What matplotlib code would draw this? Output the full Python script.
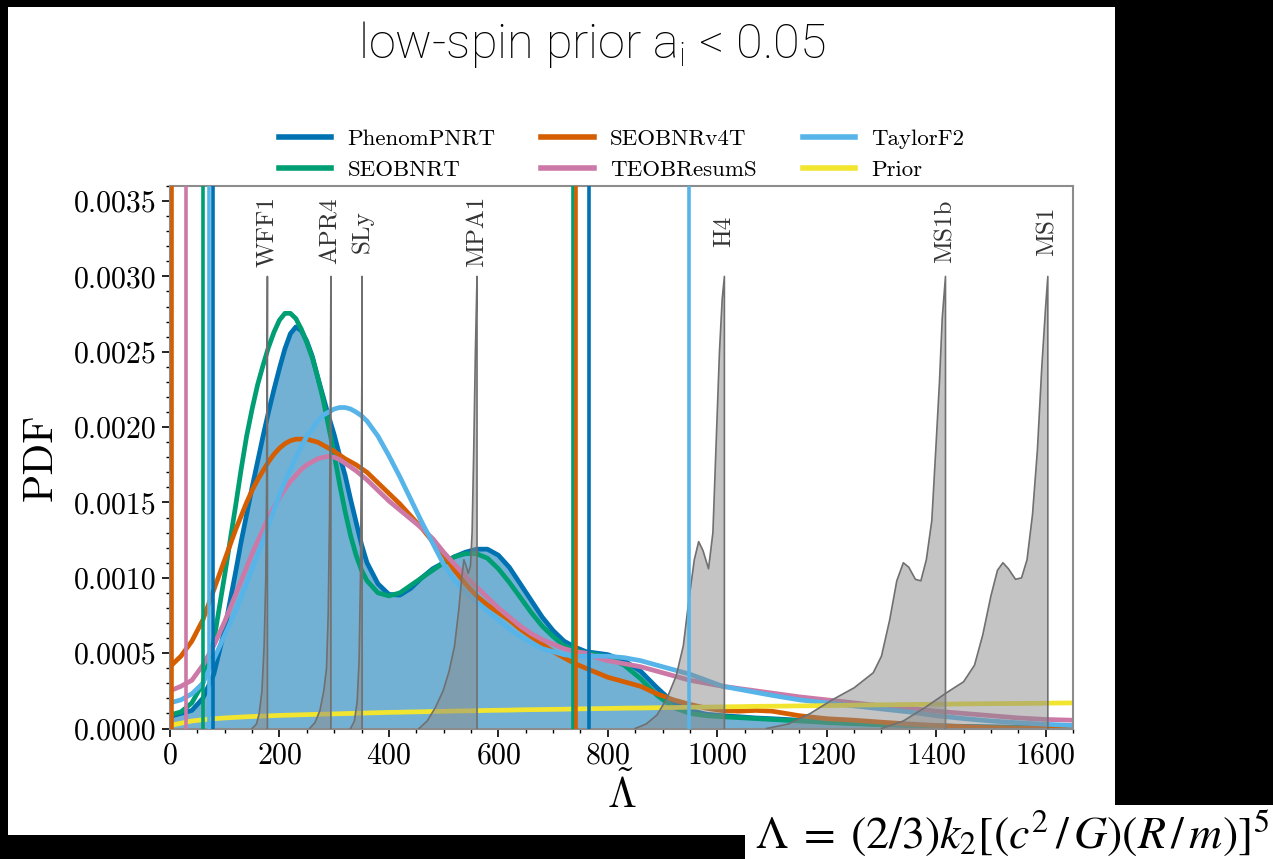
"""Tidal deformability posteriors, low-spin prior (slide recreation)."""

import matplotlib

matplotlib.use("Agg")
import matplotlib.pyplot as plt
import numpy as np
from matplotlib.patches import Rectangle
from matplotlib.ticker import FormatStrFormatter, MultipleLocator

plt.rcParams["font.family"] = "cmr10"
plt.rcParams["mathtext.fontset"] = "cm"
plt.rcParams["axes.unicode_minus"] = False
plt.rcParams["axes.formatter.use_mathtext"] = True

# --- data (PDF values in units of 1e-3) -------------------------------------
lam_grid = [0, 20, 40, 60, 80, 100, 120, 130, 140, 150, 160, 170, 180, 190, 200, 210,
            220, 230, 240, 250, 260, 270, 280, 290, 300, 310, 320, 330, 340, 350, 360,
            380, 400, 420, 440, 460, 480, 500, 520, 540, 560, 580, 600, 620, 640, 660,
            680, 700, 720, 740, 760, 780, 800, 830, 860, 890, 920, 950, 980, 1010, 1040,
            1070, 1100, 1150, 1200, 1250, 1300, 1350, 1400, 1450, 1500, 1550, 1600, 1650]

phenom_pdf = [0.08, 0.1, 0.12, 0.2, 0.36, 0.66, 1.04, 1.24, 1.42, 1.6, 1.77, 1.94, 2.1,
              2.25, 2.39, 2.52, 2.62, 2.665, 2.64, 2.57, 2.47, 2.33, 2.2, 2.07, 1.95, 1.81,
              1.68, 1.52, 1.37, 1.22, 1.1, 0.96, 0.89, 0.885, 0.93, 1.0, 1.06, 1.1, 1.14,
              1.17, 1.19, 1.19, 1.15, 1.07, 0.96, 0.85, 0.74, 0.65, 0.58, 0.54, 0.51, 0.5,
              0.49, 0.45, 0.38, 0.27, 0.17, 0.12, 0.095, 0.085, 0.078, 0.07, 0.065, 0.055,
              0.045, 0.035, 0.028, 0.022, 0.018, 0.014, 0.011, 0.009, 0.007, 0.006]

seobnrt_pdf = [0.09, 0.11, 0.17, 0.3, 0.58, 1.02, 1.48, 1.72, 1.94, 2.12, 2.28, 2.41,
               2.53, 2.63, 2.71, 2.755, 2.755, 2.72, 2.65, 2.56, 2.46, 2.33, 2.18, 2.0,
               1.82, 1.62, 1.44, 1.28, 1.15, 1.05, 0.98, 0.9, 0.88, 0.9, 0.95, 1.0, 1.05,
               1.1, 1.14, 1.16, 1.16, 1.13, 1.06, 0.97, 0.87, 0.77, 0.68, 0.61, 0.55, 0.52,
               0.5, 0.49, 0.47, 0.42, 0.33, 0.22, 0.14, 0.1, 0.085, 0.078, 0.072, 0.066,
               0.06, 0.05, 0.04, 0.032, 0.025, 0.02, 0.015, 0.011, 0.008, 0.006, 0.005,
               0.004]

seobnrv4t_pdf = [0.41, 0.48, 0.58, 0.72, 0.92, 1.12, 1.32, 1.41, 1.5, 1.58, 1.65, 1.71,
                 1.77, 1.82, 1.86, 1.89, 1.91, 1.92, 1.92, 1.92, 1.91, 1.9, 1.88, 1.86,
                 1.84, 1.815, 1.79, 1.77, 1.75, 1.725, 1.7, 1.63, 1.56, 1.49, 1.41, 1.33,
                 1.24, 1.15, 1.05, 0.96, 0.88, 0.82, 0.77, 0.72, 0.66, 0.61, 0.56, 0.51,
                 0.47, 0.43, 0.4, 0.37, 0.34, 0.31, 0.28, 0.23, 0.19, 0.16, 0.135, 0.118,
                 0.115, 0.12, 0.115, 0.085, 0.065, 0.055, 0.042, 0.03, 0.02, 0.012, 0.006,
                 0.002, 0.0, 0.0]

teob_pdf = [0.25, 0.28, 0.32, 0.42, 0.55, 0.71, 0.89, 0.98, 1.07, 1.16, 1.24, 1.32, 1.4,
            1.47, 1.53, 1.59, 1.64, 1.68, 1.72, 1.75, 1.77, 1.79, 1.8, 1.805, 1.8, 1.785,
            1.76, 1.735, 1.71, 1.68, 1.65, 1.58, 1.51, 1.45, 1.39, 1.33, 1.26, 1.17, 1.09,
            1.01, 0.94, 0.87, 0.8, 0.74, 0.68, 0.63, 0.59, 0.56, 0.53, 0.51, 0.5, 0.47,
            0.45, 0.43, 0.41, 0.38, 0.35, 0.32, 0.3, 0.28, 0.265, 0.25, 0.235, 0.21, 0.19,
            0.17, 0.15, 0.135, 0.115, 0.1, 0.085, 0.07, 0.06, 0.055]

taylorf2_pdf = [0.17, 0.19, 0.23, 0.3, 0.46, 0.62, 0.78, 0.87, 0.96, 1.06, 1.15, 1.25,
                1.35, 1.45, 1.55, 1.64, 1.72, 1.8, 1.87, 1.94, 1.99, 2.04, 2.08, 2.1, 2.12,
                2.13, 2.13, 2.12, 2.1, 2.075, 2.04, 1.94, 1.81, 1.67, 1.52, 1.37, 1.23,
                1.09, 0.98, 0.9, 0.84, 0.78, 0.72, 0.66, 0.61, 0.57, 0.53, 0.51, 0.49, 0.48,
                0.48, 0.48, 0.48, 0.47, 0.45, 0.42, 0.39, 0.36, 0.32, 0.28, 0.26, 0.24,
                0.22, 0.19, 0.17, 0.15, 0.13, 0.11, 0.085, 0.066, 0.05, 0.038, 0.028, 0.02]

prior_pdf = [0.02, 0.035, 0.05, 0.058, 0.065, 0.07, 0.074, 0.076, 0.078, 0.0795, 0.081,
             0.0825, 0.084, 0.0855, 0.087, 0.088, 0.089, 0.09, 0.091, 0.092, 0.093, 0.094,
             0.095, 0.096, 0.097, 0.098, 0.099, 0.1, 0.101, 0.102, 0.103, 0.105, 0.107,
             0.108, 0.11, 0.111, 0.113, 0.114, 0.116, 0.117, 0.118, 0.12, 0.121, 0.122,
             0.124, 0.125, 0.126, 0.127, 0.128, 0.13, 0.131, 0.132, 0.133, 0.135, 0.136,
             0.138, 0.139, 0.141, 0.142, 0.144, 0.145, 0.147, 0.148, 0.15, 0.152, 0.155,
             0.157, 0.159, 0.161, 0.163, 0.165, 0.166, 0.168, 0.17]

waveforms = ["PhenomPNRT", "SEOBNRT", "SEOBNRv4T", "TEOBResumS", "TaylorF2", "Prior"]
# 90% credible bounds on Lambda-tilde (None = off the plot)
lower_bounds = [79, 61, 3, 29, 71, None]
upper_bounds = [766, 737, 742, None, 949, None]

eos_names = ["WFF1", "APR4", "SLy", "MPA1", "H4", "MS1b", "MS1"]
eos_lam = [
    [150, 158, 163, 168, 172, 175, 176.5, 177.5, 178],
    [255, 265, 274, 281, 286, 289, 291.5, 293, 294],
    [330, 337, 342, 345.5, 348, 349.5, 350.5, 351],
    [455, 470, 485, 499, 510, 520, 528, 533, 537, 541, 545, 549, 552, 555, 558, 561],
    [850, 870, 890, 908, 925, 938, 948, 958, 966, 974, 984, 992, 998, 1004, 1009, 1013],
    [1090, 1130, 1170, 1210, 1250, 1285, 1300, 1315, 1328, 1340, 1350, 1362, 1372, 1382,
     1392, 1400, 1406, 1411, 1417],
    [1300, 1340, 1380, 1420, 1450, 1470, 1485, 1500, 1512, 1522, 1532, 1545, 1556, 1566,
     1576, 1585, 1593, 1600, 1604],
]
eos_pdf = [
    [0.0, 0.03, 0.1, 0.25, 0.55, 1.0, 1.6, 2.3, 3.0],
    [0.0, 0.04, 0.12, 0.25, 0.4, 0.75, 1.4, 2.2, 3.0],
    [0.0, 0.05, 0.18, 0.45, 1.0, 1.7, 2.3, 3.0],
    [0.0, 0.05, 0.14, 0.25, 0.38, 0.55, 0.8, 1.0, 1.12, 1.08, 1.03, 1.08, 1.3, 1.85,
     2.5, 3.0],
    [0.0, 0.03, 0.09, 0.2, 0.35, 0.55, 0.85, 1.12, 1.24, 1.18, 1.06, 1.3, 1.9, 2.5,
     2.85, 3.0],
    [0.0, 0.03, 0.1, 0.19, 0.27, 0.37, 0.48, 0.72, 0.98, 1.1, 1.07, 0.99, 0.98, 1.12,
     1.38, 1.9, 2.3, 2.72, 3.0],
    [0.0, 0.05, 0.14, 0.24, 0.31, 0.42, 0.62, 0.88, 1.05, 1.1, 1.06, 0.99, 1.0, 1.12,
     1.42, 1.85, 2.4, 2.8, 3.0],
]

colors = ["#0072B2", "#009E73", "#D55E00", "#CC79A7", "#56B4E9", "#F2E530"]

# --- figure -----------------------------------------------------------------
W, H = 1273, 859
fig = plt.figure(figsize=(W / 100, H / 100), dpi=100, facecolor="black")

# slide background: white page on black, plus the white formula strip
fig.patches.append(Rectangle((8 / W, 1 - 835 / H), 1107 / W, 828 / H,
                             transform=fig.transFigure, facecolor="white",
                             edgecolor="none", zorder=-5))
fig.patches.append(Rectangle((745 / W, 0), 528 / W, 54 / H,
                             transform=fig.transFigure, facecolor="white",
                             edgecolor="none", zorder=-5))

ax = fig.add_axes([170 / W, 1 - 728.5 / H, 903 / W, 542.5 / H])

lam = np.array(lam_grid)
series = [phenom_pdf, seobnrt_pdf, seobnrv4t_pdf, teob_pdf, taylorf2_pdf, prior_pdf]

ax.fill_between(lam, 0, np.array(phenom_pdf) * 1e-3, color=colors[0], alpha=0.55,
                lw=0, zorder=1)
for name, pdf, c in zip(waveforms, series, colors):
    ax.plot(lam, np.array(pdf) * 1e-3, color=c, lw=3.4, label=name, zorder=2,
            solid_joinstyle="round")

# EOS predictions
for name, el, ep in zip(eos_names, eos_lam, eos_pdf):
    x = np.array(el + [el[-1]])
    y = np.array(ep + [0.0]) * 1e-3
    ax.fill(x, y, facecolor="#8a8a8a", alpha=0.5, edgecolor="none", zorder=3)
    ax.plot(x, y, color="#707070", lw=1.2, zorder=3)
    ax.text(el[-1], 0.0033, name, rotation=90, ha="center", va="center",
            fontsize=18, color="#333333", zorder=4)

for lo, hi, c in zip(lower_bounds, upper_bounds, colors):
    for b in (lo, hi):
        if b is not None:
            ax.axvline(b, color=c, lw=2.6, zorder=5)

ax.set_xlim(0, 1650)
ax.set_ylim(0, 0.0036)
ax.xaxis.set_major_locator(MultipleLocator(200))
ax.xaxis.set_minor_locator(MultipleLocator(50))
ax.yaxis.set_major_locator(MultipleLocator(0.0005))
ax.yaxis.set_minor_locator(MultipleLocator(0.0001))
ax.yaxis.set_major_formatter(FormatStrFormatter("%.4f"))
ax.tick_params(which="major", direction="out", length=6, width=1.2, labelsize=21.5,
               top=False, right=False)
ax.tick_params(which="minor", direction="out", length=3, width=1, top=False, right=False)
for s in ax.spines.values():
    s.set_color("#8c8c8c")
    s.set_linewidth(1.5)

ax.set_xlabel(r"$\tilde{\Lambda}$", fontsize=30, labelpad=2)
ax.set_ylabel("PDF", fontsize=30, labelpad=10)

ax.legend(loc="lower center", bbox_to_anchor=(0.5, 0.994), ncol=3, frameon=False,
          fontsize=16.5, handlelength=2.3, handletextpad=0.7, columnspacing=2.0,
          labelspacing=0.5, borderaxespad=0.0)
for line in ax.get_legend().get_lines():
    line.set_linewidth(4)

fig.text(592 / W, 1 - 45 / H, r"low-spin prior a$_{\mathregular{i}}$ < 0.05",
         family="Roboto", fontweight="light", fontsize=35, ha="center", va="center",
         math_fontfamily="dejavusans")
fig.text(755 / W, 1 - 848 / H, r"$\Lambda\;=\;(2/3)k_2[(c^2\,/\,G)(R\,/\,m)]^5$",
         fontsize=33, ha="left", va="baseline", math_fontfamily="stix")

fig.savefig("out.png", dpi=100, facecolor=fig.get_facecolor())
